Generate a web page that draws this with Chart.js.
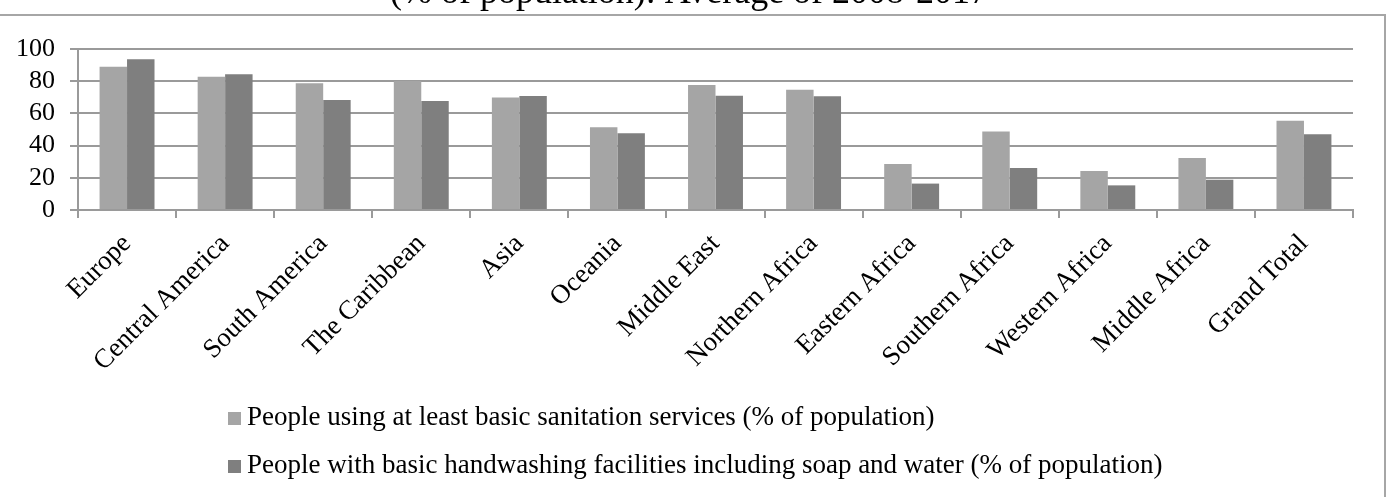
<!DOCTYPE html>
<html>
<head>
<meta charset="utf-8">
<script src="https://cdn.jsdelivr.net/npm/chart.js@4/dist/chart.umd.min.js"></script>
<style>
  html, body { margin: 0; padding: 0; background: #fff; }
  #wrap { position: relative; width: 1392px; height: 497px; }
</style>
</head>
<body>
<div id="wrap"><canvas id="c" width="1392" height="497"></canvas></div>
<script>
const titleText = "(% of population): Average of 2008-2017";
const categories = ["Europe", "Central America", "South America", "The Caribbean", "Asia", "Oceania",
  "Middle East", "Northern Africa", "Eastern Africa", "Southern Africa", "Western Africa",
  "Middle Africa", "Grand Total"];
const sanitationLabel = "People using at least basic sanitation services (% of population)";
const sanitation = [89.0, 82.8, 78.7, 80.1, 69.8, 51.4, 77.6, 74.7, 28.6, 48.7, 24.2, 32.3, 55.5];
const handwashingLabel = "People with basic handwashing facilities including soap and water (% of population)";
const handwashing = [93.6, 84.3, 68.3, 67.7, 70.8, 47.6, 71.0, 70.6, 16.4, 26.1, 15.3, 18.8, 47.0];
const yTicks = [0, 20, 40, 60, 80, 100];

const FONT = "'Liberation Serif', 'Times New Roman', serif";
const GRID = '#9a9a9a';

const decorPlugin = {
  id: 'decor',
  afterDraw(chart) {
    const ctx = chart.ctx;
    ctx.save();
    // title (clipped at top)
    ctx.fillStyle = '#000';
    ctx.font = "36px " + FONT;
    ctx.textAlign = 'center';
    ctx.textBaseline = 'alphabetic';
    ctx.fillText(titleText, 689, 3);
    // frame
    ctx.strokeStyle = '#a6a6a6';
    ctx.lineWidth = 2;
    ctx.beginPath();
    ctx.moveTo(-2, 15);
    ctx.lineTo(1385, 15);
    ctx.lineTo(1385, 500);
    ctx.stroke();
    // legend
    ctx.font = "27px " + FONT;
    ctx.textAlign = 'left';
    ctx.textBaseline = 'middle';
    const ys = [418, 466];
    chart.data.datasets.forEach((ds, i) => {
      ctx.fillStyle = ds.backgroundColor;
      ctx.fillRect(228, ys[i] - 6, 13, 13);
      ctx.fillStyle = '#000';
      ctx.fillText(ds.label, 247, ys[i]);
    });
    ctx.restore();
  }
};

new Chart(document.getElementById('c'), {
  type: 'bar',
  data: {
    labels: categories,
    datasets: [
      { label: sanitationLabel, data: sanitation, backgroundColor: '#a5a5a5' },
      { label: handwashingLabel, data: handwashing, backgroundColor: '#7f7f7f' }
    ]
  },
  options: {
    responsive: false,
    animation: false,
    events: [],
    layout: { padding: { top: 49, right: 39, left: 0, bottom: 0 } },
    datasets: { bar: { categoryPercentage: 0.56, barPercentage: 1.0 } },
    plugins: {
      legend: { display: false },
      title: { display: false },
      tooltip: { enabled: false }
    },
    scales: {
      x: {
        grid: { display: true, drawOnChartArea: false, drawTicks: true, tickLength: 8, color: GRID, lineWidth: 2, offset: true },
        border: { display: true, color: GRID, width: 2 },
        ticks: { color: '#000', font: { family: FONT, size: 27 }, minRotation: 45, maxRotation: 45, padding: 10, autoSkip: false },
        afterFit(s) { s.height = 287; }
      },
      y: {
        min: 0, max: 100,
        afterBuildTicks(s) { s.ticks = yTicks.map(v => ({ value: v })); },
        grid: { color: GRID, lineWidth: 2, tickLength: 8, drawTicks: true },
        border: { display: true, color: GRID, width: 2 },
        ticks: { color: '#000', font: { family: FONT, size: 26, lineHeight: 1 }, padding: 15, autoSkip: false },
        afterFit(s) { s.width = 78; }
      }
    }
  },
  plugins: [decorPlugin]
});
</script>
</body>
</html>
